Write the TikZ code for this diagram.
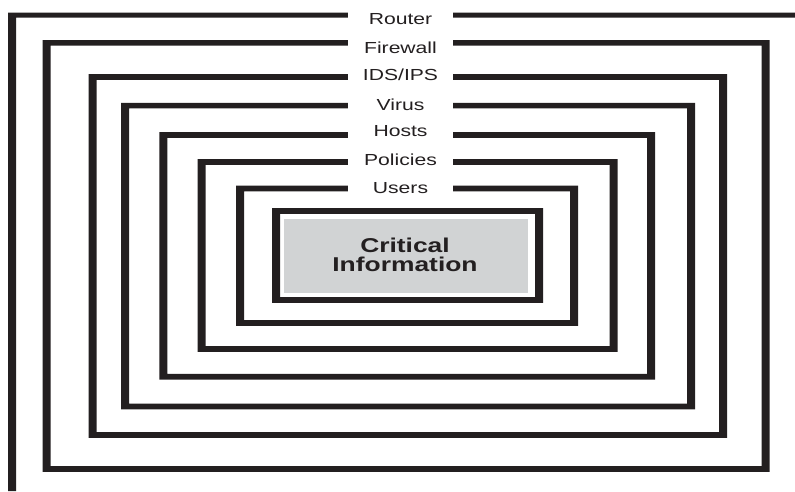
\documentclass[tikz,border=0pt]{standalone}
\usepackage{fontspec}
\setmainfont{Liberation Sans}
\usepackage{graphicx}
\definecolor{ink}{RGB}{35,31,32}
\definecolor{core}{RGB}{209,211,212}
\newcommand{\wide}[1]{\scalebox{1.32}[1]{#1}}
\tikzset{layer/.style={fill=ink,even odd rule},
  tag/.style={fill=white,minimum width=105pt,text height=12pt,text depth=3pt,inner ysep=2pt,
    anchor=base,text=ink,font=\fontsize{16}{16}\selectfont}}
\begin{document}
\begin{tikzpicture}[x=1pt,y=-1pt]
	\useasboundingbox (0,0) rectangle (795,491);
	% outer router layer, open to the right and bottom
	\fill[ink] (8,12.5) -- (795,12.5) -- (795,17.5) -- (16,17.5) -- (16,491) -- (8,491) -- cycle;
	% nested layers: left/top/right/bottom
	\foreach \l/\t/\r/\b in {46.5/42.8/765.5/469, 92.5/77/723/435, 125/105.6/691/406.5,
	  163.3/135/651/376.7, 201.7/162/613.7/349, 240/188.5/574/323, 276/211/539/300}
	  \fill[layer] ({\l-4},{\t-2.8}) rectangle ({\r+4},{\b+2.8})
	    ({\l+4},{\t+2.8}) rectangle ({\r-4},{\b-2.8});
	\node[tag] (router) at (400.5,24.5) {\wide{Router}};
	\node[tag] (firewall) at (400.5,53) {\wide{Firewall}};
	\node[tag] (ids) at (400.5,80.7) {\wide{IDS/IPS}};
	\node[tag] (virus) at (400.5,110) {\wide{Virus}};
	\node[tag] (hosts) at (400.5,136.7) {\wide{Hosts}};
	\node[tag] (policies) at (400.5,165) {\wide{Policies}};
	\node[tag] (users) at (400.5,193.3) {\wide{Users}};
	% the core
	\fill[core] (284,219) rectangle (527.7,292.7);
	\node[align=center,text=ink,font=\bfseries\fontsize{20}{19.3}\selectfont] (info) at (405,255)
	  {\wide{Critical}\\\wide{Information}};
\end{tikzpicture}
\end{document}
